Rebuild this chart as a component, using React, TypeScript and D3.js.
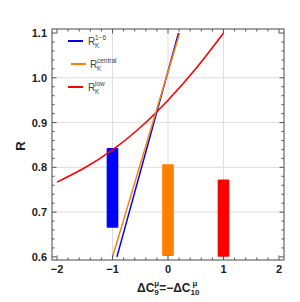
import React from "react";
import * as d3 from "d3";

// red curve R_K^low
const lowX = [-2, -1.5, -1, -0.5, 0, 0.5, 1];
const lowR = [0.767, 0.799, 0.839, 0.889, 0.95, 1.02, 1.1];
// straight lines R_K^{1-6} and R_K^{central}
const binX = [-0.92, 0.19];
const binR = [0.6, 1.1];
const centralX = [-1.0, 0.21];
const centralR = [0.6, 1.1];
// vertical bars: position, low, high
const barNames = ["1-6", "central", "low"];
const barX = [-1, 0, 1];
const barLow = [0.665, 0.602, 0.6];
const barHigh = [0.843, 0.807, 0.773];
const barColors = ["#0000ff", "#ff8000", "#ff0000"];

const xTicks = [-2, -1, 0, 1, 2];
const yTicks = [0.6, 0.7, 0.8, 0.9, 1.0, 1.1];
const xGrid = [-1, 0, 1];
const yGrid = [0.7, 0.8, 0.9, 1.0];

const W = 300;
const H = 302;
const FONT = "'Liberation Sans', Arial, sans-serif";

export default function App() {
  const x = d3.scaleLinear().domain([-2.09, 2.09]).range([52, 284]);
  const y = d3.scaleLinear().domain([0.593, 1.109]).range([260, 29]);
  const [x0, x1] = x.range();
  const [y0, y1] = y.range(); // y0 bottom, y1 top

  const straight = d3
    .line<[number, number]>()
    .x((d) => x(d[0]))
    .y((d) => y(d[1]));
  const smooth = d3
    .line<[number, number]>()
    .x((d) => x(d[0]))
    .y((d) => y(d[1]))
    .curve(d3.curveNatural);

  const lowPts = lowX.map((v, i) => [v, lowR[i]] as [number, number]);
  const binPts = binX.map((v, i) => [v, binR[i]] as [number, number]);
  const cenPts = centralX.map((v, i) => [v, centralR[i]] as [number, number]);

  const xMinor = d3.range(-2, 2.001, 0.2).map((v) => +v.toFixed(2));
  const yMinor = d3.range(0.6, 1.1001, 0.02).map((v) => +v.toFixed(3));
  const isMajorX = (v: number) => Math.abs(v - Math.round(v)) < 1e-6;
  const isMajorY = (v: number) => Math.abs(v * 10 - Math.round(v * 10)) < 1e-6;

  const bw = x(0.21) - x(0);
  const tickCol = "#555";

  const legend = [
    { label: "1−6", color: barColors[0], y: 41, lx: 68, tx: 88 },
    { label: "central", color: barColors[1], y: 64, lx: 71, tx: 90 },
    { label: "low", color: barColors[2], y: 87, lx: 68, tx: 88 },
  ];

  return (
    <svg
      width={W}
      height={H}
      style={{ position: "absolute", left: 0, top: 0, background: "#fff" }}
      fontFamily={FONT}
    >
      {/* grid */}
      {xGrid.map((v) => (
        <line key={"gx" + v} x1={x(v)} x2={x(v)} y1={y0} y2={y1} stroke="#dedede" strokeWidth={1} />
      ))}
      {yGrid.map((v) => (
        <line key={"gy" + v} x1={x0} x2={x1} y1={y(v)} y2={y(v)} stroke="#dedede" strokeWidth={1} />
      ))}

      {/* bars */}
      {barX.map((v, i) => (
        <rect
          key={barNames[i]}
          x={x(v) - bw / 2}
          y={y(barHigh[i])}
          width={bw}
          height={y(barLow[i]) - y(barHigh[i])}
          rx={1}
          fill={barColors[i]}
        />
      ))}

      {/* curves */}
      <path d={smooth(lowPts) || ""} fill="none" stroke="#ff0000" strokeWidth={1.6} />
      <path d={straight(binPts) || ""} fill="none" stroke="#0000ff" strokeWidth={1.5} />
      <path d={straight(cenPts) || ""} fill="none" stroke="#ff8000" strokeWidth={1.5} />

      {/* frame */}
      <rect x={x0} y={y1} width={x1 - x0} height={y0 - y1} fill="none" stroke="#666" strokeWidth={1.2} />
      {xMinor.map((v) => {
        const len = isMajorX(v) ? 4.5 : 2.5;
        return (
          <g key={"tx" + v} stroke={tickCol} strokeWidth={1}>
            <line x1={x(v)} x2={x(v)} y1={y0} y2={y0 - len} />
            <line x1={x(v)} x2={x(v)} y1={y1} y2={y1 + len} />
          </g>
        );
      })}
      {yMinor.map((v) => {
        const len = isMajorY(v) ? 4.5 : 2.5;
        return (
          <g key={"ty" + v} stroke={tickCol} strokeWidth={1}>
            <line x1={x0} x2={x0 + len} y1={y(v)} y2={y(v)} />
            <line x1={x1} x2={x1 - len} y1={y(v)} y2={y(v)} />
          </g>
        );
      })}

      {/* tick labels */}
      {xTicks.map((v) => (
        <text key={"lx" + v} x={x(v)} y={273} textAnchor="middle" fontSize={11} fontWeight="bold" fill="#222">
          {v < 0 ? "−" + Math.abs(v) : String(v)}
        </text>
      ))}
      {yTicks.map((v) => (
        <text key={"ly" + v} x={47} y={y(v) + 4} textAnchor="end" fontSize={11} fontWeight="bold" fill="#222">
          {v.toFixed(1)}
        </text>
      ))}

      {/* axis titles */}
      <text
        transform="translate(25,146) rotate(-90)"
        textAnchor="middle"
        fontSize={13}
        fontWeight="bold"
        fill="#222"
      >
        R
      </text>
      <text x={137} y={292} fontSize={12} fontWeight="bold" fill="#222">
        ΔC
        <tspan fontSize={8} dy={3}>9</tspan>
        <tspan fontSize={8} dx={-4.5} dy={-9}>μ</tspan>
        <tspan dy={6}>=−ΔC</tspan>
        <tspan fontSize={8} dy={3}>10</tspan>
        <tspan fontSize={8} dx={-7} dy={-9}>μ</tspan>
      </text>

      {/* legend */}
      {legend.map((l) => (
        <g key={l.label}>
          <line x1={l.lx} x2={l.lx + 15} y1={l.y} y2={l.y} stroke={l.color} strokeWidth={2} />
          <text x={l.tx} y={l.y + 4} fontSize={10} fill="#444">R</text>
          <text x={l.tx + 7} y={l.y + 7} fontSize={6.5} fill="#444">K</text>
          <text x={l.tx + 7} y={l.y - 1} fontSize={6.5} fill="#444">{l.label}</text>
        </g>
      ))}
    </svg>
  );
}
